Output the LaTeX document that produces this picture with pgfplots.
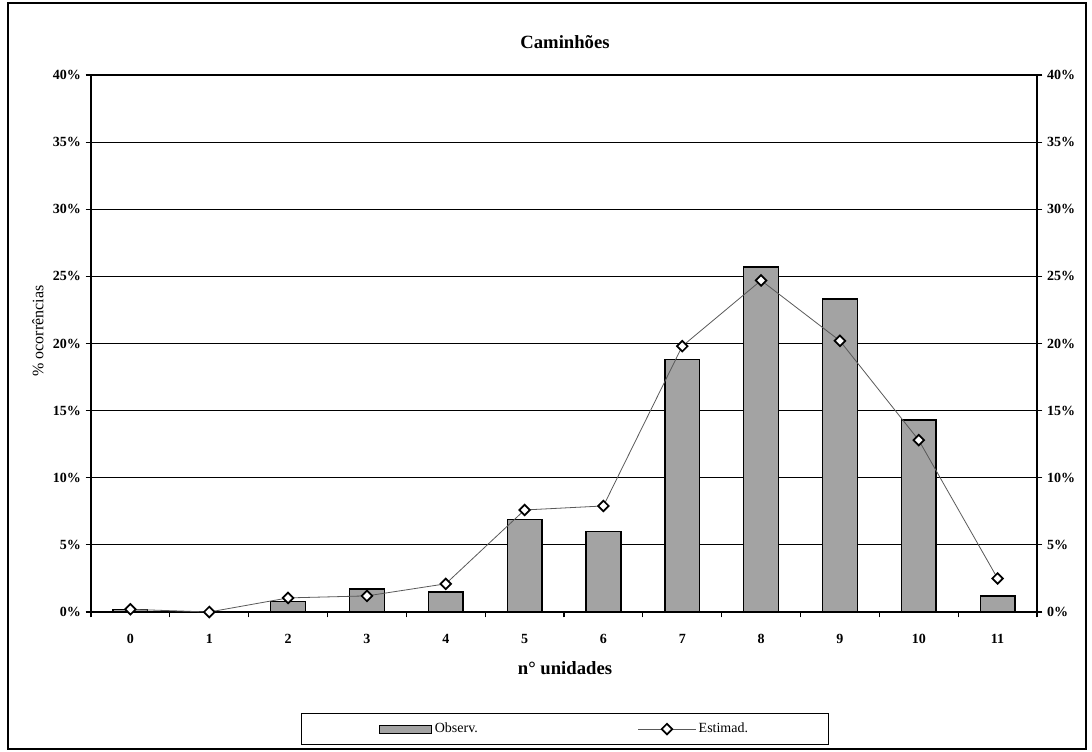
\documentclass[border=0pt]{standalone}
\usepackage{pgfplots}
\pgfplotsset{compat=1.18}
\usepackage{fontspec}
\setmainfont{Liberation Serif}
\pgfplotsset{
  barleg/.style={legend image code/.code={\draw[fill=black!36,draw=black,line width=0.8pt] (0pt,-3pt) rectangle (39pt,3pt);}},
  lineleg/.style={legend image code/.code={\draw[mark repeat=2,mark phase=2,##1] plot coordinates {(0pt,0pt) (21.5pt,0pt) (43pt,0pt)};}},
}
\begin{document}
\begin{tikzpicture}[x=0.75pt,y=0.75pt]
\path (0,0) rectangle (1092,751);
\draw[line width=0.8pt] (8,2) rectangle (1086,748);
\begin{axis}[
  at={(68.25pt,104.25pt)}, anchor=south west,
  scale only axis, width=709.5pt, height=402.75pt,
  xmin=-0.5, xmax=11.5, ymin=0, ymax=40,
  axis line style={line width=1.4pt},
  xtick={0,...,11}, xticklabels={0,1,2,3,4,5,6,7,8,9,10,11},
  major x tick style={draw=none},
  xticklabel style={yshift=-9pt},
  minor xtick={-0.5,0.5,...,11.5},
  minor x tick style={line width=0.8pt, black},
  minor tick length=4pt, major tick length=4pt,
  tick align=outside,
  xtick pos=bottom, ytick pos=left,
  ytick={0,5,...,40},
  yticklabels={0\%,5\%,10\%,15\%,20\%,25\%,30\%,35\%,40\%},
  ymajorgrids, grid style={black, line width=0.6pt},
  major y tick style={black,line width=0.8pt},
  tick label style={font=\fontsize{10.5}{12}\selectfont\bfseries},
  legend columns=2,
  legend style={at={(0.501,-0.218)}, anchor=center, draw=black, line width=0.8pt,
    inner xsep=58pt, inner ysep=5pt, font=\fontsize{10.5}{12}\selectfont,
    /tikz/every even column/.append style={column sep=118pt}},
]
\addplot[ybar, bar width=0.44, fill=black!36, draw=black, line width=1.1pt, barleg]
  coordinates {(0,0.2)(1,0)(2,0.8)(3,1.7)(4,1.5)(5,6.9)(6,6.0)(7,18.8)(8,25.7)(9,23.3)(10,14.3)(11,1.2)};
\addlegendentry{Observ.}
\addplot[black!65, line width=0.6pt, mark=square*, mark size=2.8pt,
  mark options={rotate=45, fill=white, draw=black, line width=1.3pt}, lineleg]
  coordinates {(0,0.2)(1,0)(2,1.05)(3,1.2)(4,2.1)(5,7.6)(6,7.9)(7,19.8)(8,24.7)(9,20.2)(10,12.8)(11,2.5)};
\addlegendentry{Estimad.}
\end{axis}
\begin{axis}[
  at={(68.25pt,104.25pt)}, anchor=south west,
  scale only axis, width=709.5pt, height=402.75pt,
  xmin=-0.5, xmax=11.5, ymin=0, ymax=40,
  axis x line=none, axis y line*=right,
  axis line style={line width=1.4pt},
  tick align=outside, major tick length=4pt,
  ytick={0,5,...,40},
  yticklabels={0\%,5\%,10\%,15\%,20\%,25\%,30\%,35\%,40\%},
  major y tick style={black,line width=0.8pt},
  tick label style={font=\fontsize{10.5}{12}\selectfont\bfseries},
]
\addplot[draw=none] coordinates {(0,0)};
\end{axis}
\node[font=\fontsize{14}{16}\selectfont\bfseries] at (565,709) {Caminhões};
\node[font=\fontsize{14}{16}\selectfont\bfseries] at (565,83) {n° unidades};
\node[font=\fontsize{12}{14}\selectfont, rotate=90] at (38,420) {\% ocorrências};
\end{tikzpicture}
\end{document}
